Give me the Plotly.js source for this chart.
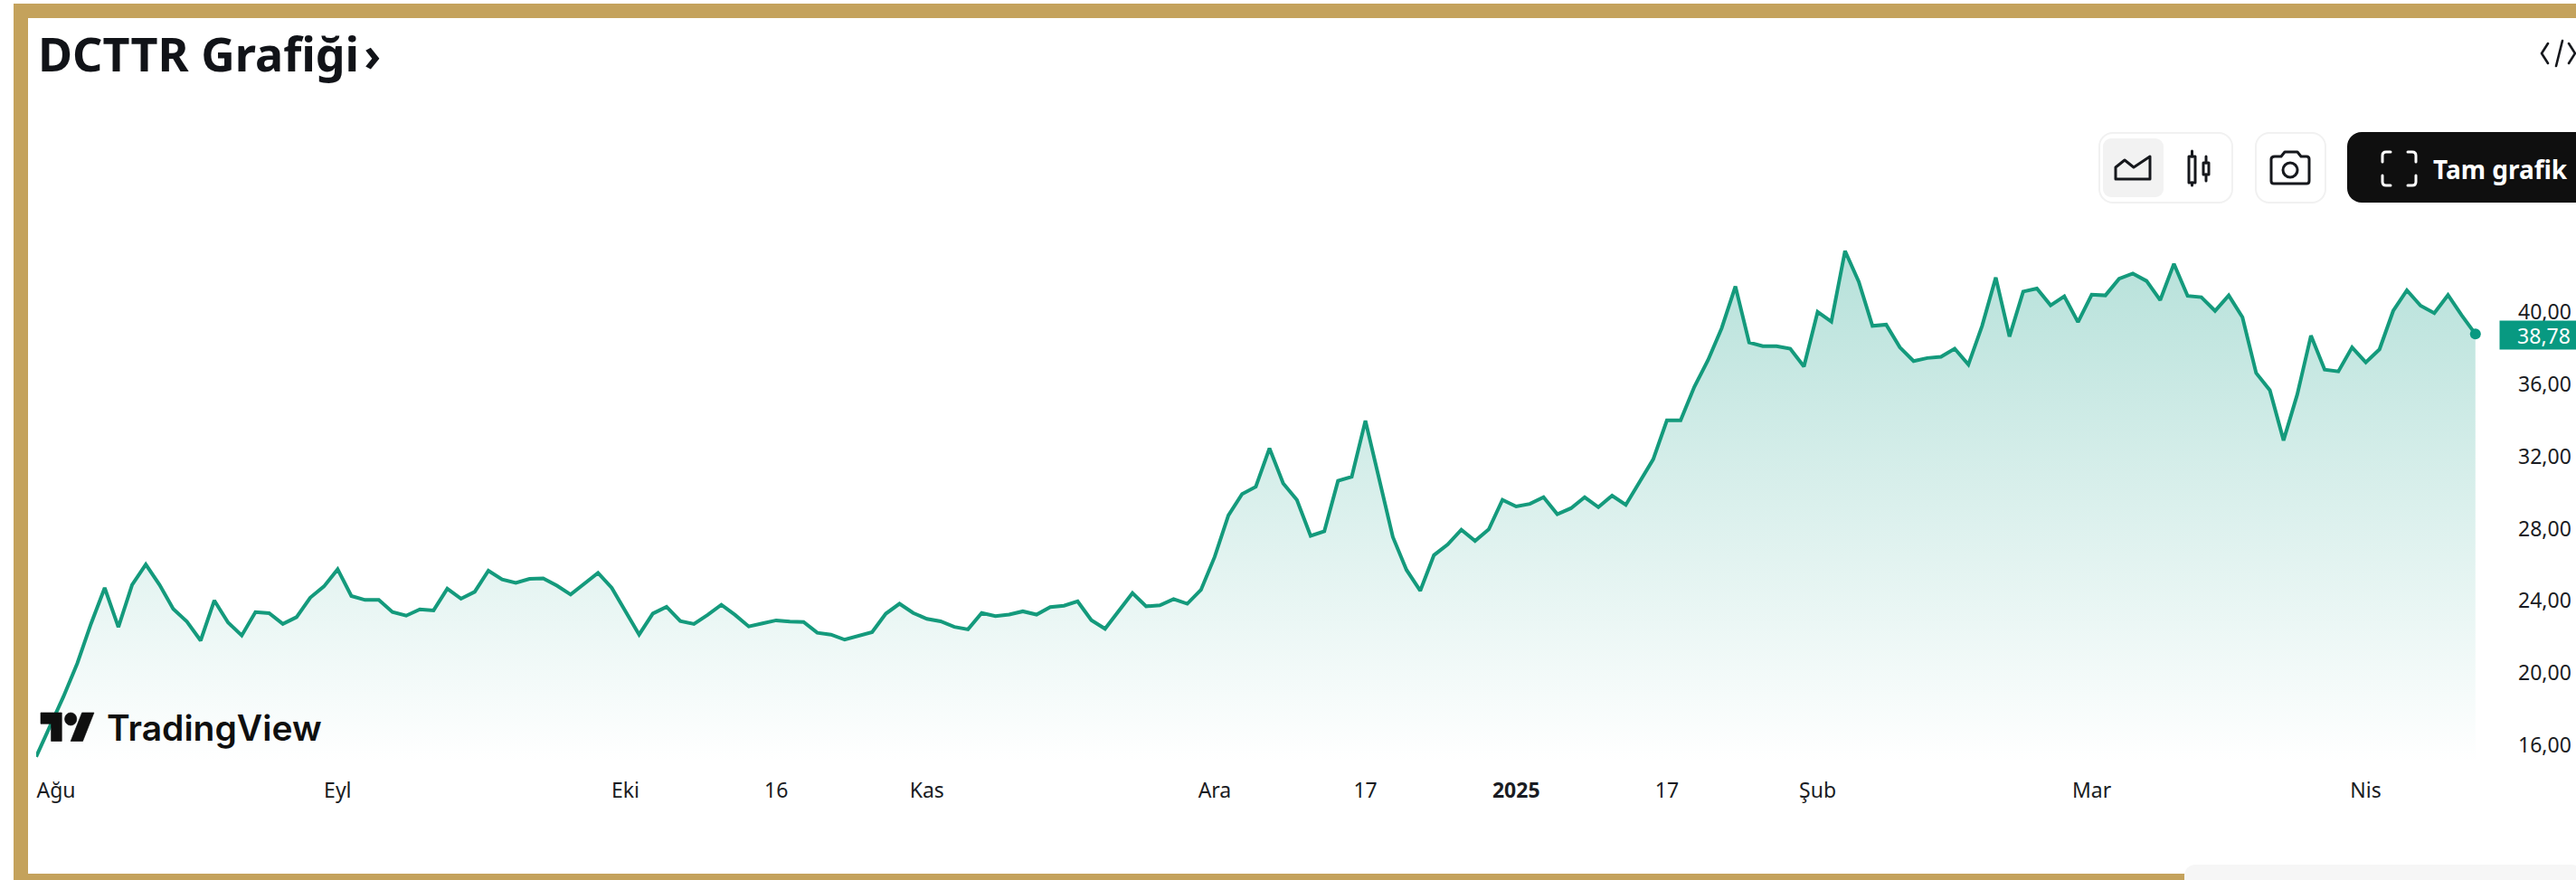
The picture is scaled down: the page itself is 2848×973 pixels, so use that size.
<!DOCTYPE html>
<html lang="tr">
<head>
<meta charset="utf-8">
<title>DCTTR Grafiği</title>
<script src="https://cdn.plot.ly/plotly-3.0.1.min.js"></script>
<style>
html,body{margin:0;padding:0;background:#fff;width:2848px;height:973px;overflow:hidden}
#under,#over{position:absolute;left:0;top:0;pointer-events:none}
#under{z-index:0}
#chart{position:absolute;left:0;top:0;width:2848px;height:973px;z-index:1}
#over{z-index:2}
</style>
</head>
<body>
<svg id="under" width="2848" height="973" viewBox="0 0 2848 973">
  <rect x="23" y="12" width="2840" height="962" fill="none" stroke="#c4a25c" stroke-width="16"/>
  <rect x="2415" y="956" width="440" height="30" rx="12" fill="#f6f6f6"/>
  <rect x="2321" y="147" width="147" height="77" rx="15" fill="#fff" stroke="#f1f1f1" stroke-width="2"/>
  <rect x="2325" y="153" width="67" height="65" rx="9" fill="#f2f2f2"/>
  <rect x="2494" y="147" width="77" height="77" rx="15" fill="#fff" stroke="#f1f1f1" stroke-width="2"/>
  <rect x="2595" y="146" width="270" height="78" rx="16" fill="#0f0f0f"/>
  <g fill="none" stroke="#16181d" stroke-width="3" stroke-linejoin="round" stroke-linecap="round">
    <path d="M2339 198H2377V173L2359 185L2349 177L2339 185Z"/>
    <rect x="2420" y="173" width="7" height="29"/><path d="M2423.5 167V173M2423.5 202V205"/>
    <rect x="2436" y="180" width="6" height="13"/><path d="M2439 173V180M2439 193V200"/>
    <path d="M2515 173H2522L2526 168H2540L2544 173H2550Q2553 173 2553 176V200Q2553 203 2550 203H2514Q2511 203 2511 200V176Q2511 173 2515 173Z"/>
    <circle cx="2532" cy="188" r="8"/>
    <path d="M2817 48L2810 59L2817 70M2833 45L2826 73M2840 48L2847 59L2840 70" stroke-width="2.6"/>
  </g>
  <path d="M2643 168H2638Q2634 168 2634 172V179M2662 168H2667Q2671 168 2671 172V179M2643 205H2638Q2634 205 2634 201V194M2662 205H2667Q2671 205 2671 201V194" fill="none" stroke="#fff" stroke-width="3" stroke-linecap="round"/>
</svg>
<div id="chart"></div>
<svg id="over" width="2848" height="973" viewBox="0 0 2848 973">
  <g transform="translate(45 781) scale(1.66 1.75)" fill="#0f0f0f" stroke="#0f0f0f" stroke-width="0.4">
    <path d="M14 22H7V11H0V4h14v18zM28 22h-8l7.5-18h8L28 22z"/><circle cx="20" cy="8" r="4"/>
  </g>
</svg>
<script>
const closePrices = [
15.37,17.04,18.71,20.54,22.73,24.72,22.55,24.89,26.02,24.89,23.55,22.85,21.80,24.02,22.80,22.08,23.38,23.32,22.72,23.10,
24.18,24.80,25.75,24.27,24.05,24.05,23.38,23.18,23.53,23.47,24.67,24.12,24.50,25.67,25.19,25.00,25.22,25.25,24.84,24.35,
24.97,25.55,24.72,23.47,22.13,23.30,23.67,22.88,22.72,23.22,23.78,23.22,22.58,22.75,22.92,22.85,22.83,22.23,22.13,21.85,
22.05,22.27,23.29,23.84,23.33,23.00,22.87,22.56,22.42,23.33,23.15,23.24,23.42,23.24,23.66,23.73,23.97,22.93,22.45,23.42,
24.43,23.70,23.75,24.10,23.84,24.61,26.44,28.73,29.92,30.32,32.45,30.51,29.59,27.60,27.85,30.65,30.87,33.98,30.65,27.54,
25.71,24.56,26.53,27.12,27.94,27.32,27.96,29.59,29.23,29.37,29.74,28.80,29.13,29.74,29.19,29.83,29.32,30.56,31.84,34.00,
34.00,35.85,37.33,39.11,41.42,38.31,38.11,38.11,37.97,36.98,40.01,39.47,43.38,41.68,39.23,39.30,38.04,37.28,37.45,37.52,
37.97,37.09,39.23,41.91,38.64,41.13,41.30,40.37,40.87,39.44,40.96,40.92,41.84,42.13,41.72,40.66,42.67,40.89,40.82,40.06,
40.92,39.71,36.62,35.67,32.89,35.43,38.69,36.81,36.71,38.04,37.21,37.93,40.06,41.20,40.35,39.94,40.94,39.82,38.78
];
const sessions = closePrices.map((_, i) => i);
const xTickPositions = [1.45, 22, 43, 54, 65, 86, 97, 108, 119, 130, 150, 170];
const xTickLabels = ['Ağu', 'Eyl', 'Eki', '16', 'Kas', 'Ara', '17', '<b>2025</b>', '17', 'Şub', 'Mar', 'Nis'];
const yTickValues = [16, 20, 24, 28, 32, 36, 40];
const yTickLabels = ['16,00', '20,00', '24,00', '28,00', '32,00', '36,00', '40,00'];
const lastPriceLabel = '38,78';
const chartTitle = 'DCTTR Grafiği\u200a›';

const W = 2848, H = 973, L = 40, R = 95, T = 220, B = 123;
const pxX = p => (p - L) / (W - L - R);
const pxY = p => 1 - (p - T) / (H - T - B);
const FONT = '"Noto Sans", sans-serif';
const lastI = sessions.length - 1;

Plotly.newPlot('chart', [
  {
    x: sessions, y: closePrices, type: 'scatter', mode: 'lines',
    line: {color: '#149a7c', width: 4, shape: 'linear'},
    fill: 'tozeroy',
    fillgradient: {type: 'vertical', start: 44, stop: 15,
      colorscale: [[0, 'rgba(8,153,129,0.30)'], [1, 'rgba(8,153,129,0)']]},
    hoverinfo: 'skip', showlegend: false
  },
  {
    x: [sessions[lastI]], y: [closePrices[lastI]], type: 'scatter', mode: 'markers',
    marker: {color: '#089981', size: 12}, cliponaxis: false, hoverinfo: 'skip', showlegend: false
  }
], {
  width: W, height: H, autosize: false,
  margin: {l: L, r: R, t: T, b: B, pad: 0},
  paper_bgcolor: 'rgba(0,0,0,0)', plot_bgcolor: 'rgba(0,0,0,0)',
  showlegend: false,
  title: {
    text: '<b>' + chartTitle + '</b>',
    font: {family: FONT, size: 52, color: '#111318'},
    xref: 'container', yref: 'container', x: 42 / W, xanchor: 'left', y: 1 - 61 / H, yanchor: 'middle'
  },
  xaxis: {
    range: [0, 179.07], tickmode: 'array', tickvals: xTickPositions, ticktext: xTickLabels,
    showgrid: false, zeroline: false, showline: false, ticks: '', ticklabelstandoff: 8,
    tickangle: 0, tickfont: {family: FONT, size: 23, color: '#1a1c23'}
  },
  yaxis: {
    range: [14.70, 46.26], side: 'right', tickmode: 'array', tickvals: yTickValues, ticktext: yTickLabels,
    showgrid: false, zeroline: false, showline: false, ticks: '', ticklabelstandoff: 30,
    tickfont: {family: FONT, size: 23, color: '#1a1c23'}
  },
  annotations: [
    {xref: 'paper', yref: 'y', x: pxX(2763), y: 38.70, xanchor: 'left', yanchor: 'middle',
     text: '\u00a0\u00a0' + lastPriceLabel, showarrow: false, width: 85, height: 31, align: 'center',
     bgcolor: '#089981', font: {family: FONT, size: 23, color: '#ffffff'}, borderpad: 0},
    {xref: 'paper', yref: 'paper', x: pxX(2688), y: pxY(187), xanchor: 'left', yanchor: 'middle',
     text: '<b>Tam grafik</b>', showarrow: false, font: {family: FONT, size: 28, color: '#ffffff'}},
    {xref: 'paper', yref: 'paper', x: pxX(116), y: pxY(804), xanchor: 'left', yanchor: 'middle',
     text: 'TradingView', showarrow: false, font: {family: 'Inter, sans-serif', size: 39, color: '#0f0f0f', weight: 600}}
  ]
}, {staticPlot: true, displayModeBar: false});
</script>
</body>
</html>
